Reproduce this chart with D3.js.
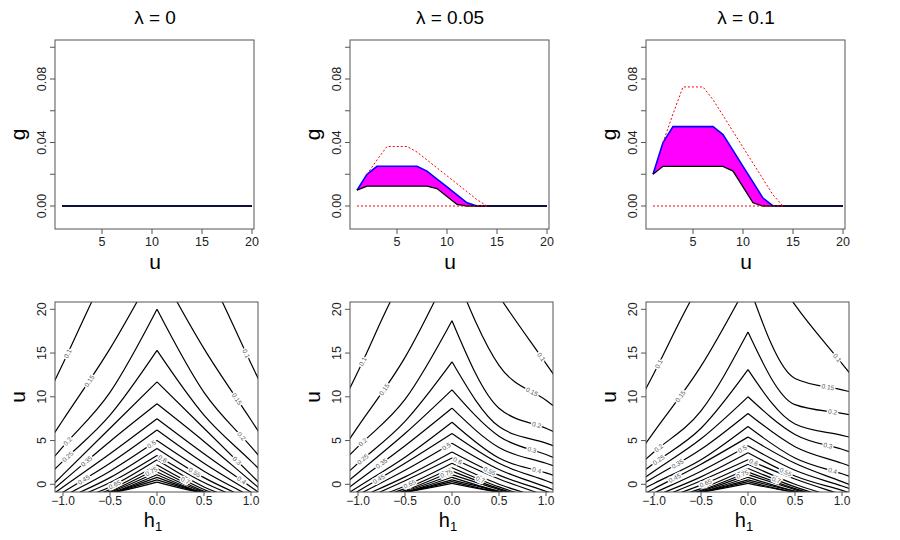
<!DOCTYPE html>
<html><head><meta charset="utf-8">
<script src="https://cdn.jsdelivr.net/npm/d3@7"></script>
<style>body{margin:0;background:#fff}text{font-family:"Liberation Sans",Arial,sans-serif}</style>
</head><body><svg id="c" width="900" height="540"></svg>
<script>
// ---------- data ----------
const titles = ["0", "0.05", "0.1"];
const uVals = d3.range(1, 21);
// top panels: g(u) for u = 1..20
const upperG = [
  [0,0,0,0,0,0,0,0,0,0,0,0,0,0,0,0,0,0,0,0],
  [0.010,0.020,0.025,0.025,0.025,0.025,0.025,0.022,0.017,0.012,0.007,0.002,0,0,0,0,0,0,0,0],
  [0.020,0.040,0.050,0.050,0.050,0.050,0.050,0.045,0.035,0.025,0.015,0.005,0,0,0,0,0,0,0,0]
];
const lowerG = [
  [0,0,0,0,0,0,0,0,0,0,0,0,0,0,0,0,0,0,0,0],
  [0.010,0.0125,0.0125,0.0125,0.0125,0.0125,0.0125,0.0125,0.011,0.006,0.001,0,0,0,0,0,0,0,0,0],
  [0.020,0.025,0.025,0.025,0.025,0.025,0.025,0.025,0.022,0.012,0.002,0,0,0,0,0,0,0,0,0]
];
const redU = [2,3,4,5,6,7,8,9,10,11,12,13,14];
const redG = [
  null,
  [0.020,0.029,0.0375,0.0375,0.0375,0.034,0.029,0.024,0.019,0.014,0.009,0.004,0],
  [0.040,0.058,0.075,0.075,0.075,0.067,0.057,0.047,0.037,0.027,0.017,0.007,0]
];
const redZeroU = [1, 14];
const gTicks = [0, 0.02, 0.04, 0.06, 0.08, 0.10];
const gTickLabels = ["0.00", "", "0.04", "", "0.08", ""];
const uTicks = [5, 10, 15, 20];
const hTicks = [-1, -0.5, 0, 0.5, 1];
const hTickLabels = ["\u22121.0", "\u22120.5", "0.0", "0.5", "1.0"];
const uTicksB = [0, 5, 10, 15, 20];

const levels = [0.1,0.15,0.2,0.25,0.3,0.35,0.4,0.45,0.5,0.55,0.6,0.65,0.7,0.75,0.8,0.85,0.9,0.95,1.0];
// contour u values at h = 0 (apex), |h| = 0.5 and |h| = 1 for left and right branches
const apexU = [
  [33,25,20,15.3,11.7,9.2,7.5,6.2,5.0,4.1,3.3,2.8,2.2,1.8,1.4,1.1,0.8,0.5,0.25],
  [30,25,18.7,14.0,10.8,8.7,7.1,5.8,4.7,3.7,3.0,2.4,1.9,1.5,1.1,0.8,0.5,0.3,0.1],
  [29,23,17.4,13.1,10.0,8.1,6.6,5.4,4.4,3.6,2.8,2.3,1.8,1.4,1.1,0.8,0.5,0.3,0.1]
];
const leftMidU = [
  [25,15.5,10.5,7.9,6.4,4.9,3.5,2.4,1.5,0.76,0.2,-0.3,-0.6,-0.8,-0.9,-1,-1,-1,-1],
  [24,14.5,9.7,7.2,5.8,4.4,3.1,2.4,1.6,0.85,0.4,-0.2,-0.5,-0.7,-0.8,-0.9,-0.9,-0.9,-0.9],
  [23,13.5,8.4,6.4,5.2,4.0,2.8,2.3,1.5,0.85,0.4,-0.1,-0.5,-0.7,-0.8,-0.9,-0.9,-0.9,-0.9]
];
const leftEdgeU = [
  [13.8,7.35,4.3,2.65,1.1,0.35,-0.3,-0.9,-1.4,-1.8,-2.1,-2.3,-2.4,-2.4,-2.3,-2.2,-2.0,-1.8,-1.5],
  [12.9,6.6,4.3,2.4,1.3,0.4,-0.3,-0.8,-1.2,-1.6,-2.0,-2.2,-2.2,-2.3,-2.2,-2.0,-1.8,-1.6,-1.5],
  [12.7,6.0,3.7,2.4,1.5,0.8,0.1,-0.5,-1.0,-1.4,-1.8,-2.0,-2.1,-2.2,-2.1,-2.0,-1.8,-1.6,-1.5]
];
const rightMidU = [
  [25,15.5,10.5,7.9,6.4,4.9,3.5,2.4,1.5,0.76,0.2,-0.3,-0.6,-0.8,-0.9,-1,-1,-1,-1],
  [21.5,13.6,8.7,6.6,5.5,4.2,3.0,2.4,1.7,1.05,0.6,0,-0.3,-0.5,-0.6,-0.8,-0.8,-0.9,-0.9],
  [20.5,12.1,9.1,6.9,5.7,4.3,3.0,2.4,1.6,0.95,0.6,0,-0.3,-0.5,-0.6,-0.8,-0.8,-0.9,-0.9]
];
const rightEdgeU = [
  [13.8,7.35,4.3,2.65,1.1,0.35,-0.3,-0.9,-1.4,-1.8,-2.1,-2.3,-2.4,-2.4,-2.3,-2.2,-2.0,-1.8,-1.5],
  [13.8,9.6,6.4,4.7,3.4,2.4,1.3,0.4,-0.3,-0.8,-1.3,-1.7,-2.0,-2.1,-2.1,-2.0,-1.8,-1.6,-1.5],
  [13.8,10.8,8.1,5.6,4.0,2.4,1.2,0.3,-0.2,-0.7,-1.2,-1.7,-2.0,-2.1,-2.1,-2.0,-1.8,-1.6,-1.5]
];
// contour label placements: [level, h]
const labelPos = [[0.1,-0.95],[0.15,-0.72],[0.2,-0.95],[0.25,-0.95],[0.35,-0.75],[0.45,-0.78],
  [0.5,-0.06],[0.6,0.06],[0.65,-0.45],[0.75,-0.06],[0.1,0.95],[0.15,0.85],[0.2,0.9],[0.3,0.85],
  [0.4,0.9],[0.55,0.4],[0.7,0.3]];

// ---------- drawing ----------
const svg = d3.select("#c");
const lefts = [55, 350, 646];
const boxCol = "#555";

lefts.forEach((L, i) => {
  // ----- top panel -----
  const x = d3.scaleLinear().domain([0.3, 20.2]).range([L, L + 199]);
  const y = d3.scaleLinear().domain([0, 0.08]).range([206, 79]);
  const g = svg.append("g");
  const t = g.append("text").attr("x", L + 100).attr("y", 24).attr("text-anchor", "middle").attr("font-size", 19);
  t.append("tspan").text("\u03bb");
  t.append("tspan").text(" = " + titles[i]);

  const top = 40, bot = 229;
  if (i > 0) {
    const area = d3.area().x((d, k) => x(uVals[k])).y0((d, k) => y(lowerG[i][k])).y1(d => y(d));
    g.append("path").datum(upperG[i]).attr("d", area).attr("fill", "#ff00ff");
  }
  const line = d3.line().x((d, k) => x(uVals[k])).y(d => y(d));
  g.append("path").datum(upperG[i]).attr("d", line).attr("fill", "none").attr("stroke", "#0000ff").attr("stroke-width", 1.6);
  g.append("path").datum(lowerG[i]).attr("d", line).attr("fill", "none").attr("stroke", "#000").attr("stroke-width", 1.3);
  if (redG[i]) {
    g.append("path").datum(redG[i]).attr("d", d3.line().x((d, k) => x(redU[k])).y(d => y(d)))
      .attr("fill", "none").attr("stroke", "#ff0000").attr("stroke-width", 1).attr("stroke-dasharray", "2,2");
    g.append("path").datum(redZeroU).attr("d", d3.line().x(d => x(d)).y(() => y(0)))
      .attr("fill", "none").attr("stroke", "#ff0000").attr("stroke-width", 1.2).attr("stroke-dasharray", "2,2");
  }
  g.append("rect").attr("x", L).attr("y", top).attr("width", 199).attr("height", bot - top)
    .attr("fill", "none").attr("stroke", boxCol);
  gTicks.forEach((v, k) => {
    g.append("line").attr("x1", L).attr("x2", L - 5).attr("y1", y(v)).attr("y2", y(v)).attr("stroke", boxCol);
    if (gTickLabels[k]) g.append("text").attr("transform", `translate(${L - 9},${y(v)}) rotate(-90)`)
      .attr("text-anchor", "middle").attr("font-size", 12.5).attr("fill", "#222").text(gTickLabels[k]);
  });
  uTicks.forEach(v => {
    g.append("line").attr("x1", x(v)).attr("x2", x(v)).attr("y1", bot).attr("y2", bot + 5).attr("stroke", boxCol);
    g.append("text").attr("x", x(v)).attr("y", bot + 17).attr("text-anchor", "middle").attr("font-size", 12.5).attr("fill", "#222").text(v);
  });
  g.append("text").attr("x", L + 100).attr("y", 269).attr("text-anchor", "middle").attr("font-size", 21).text("u");
  g.append("text").attr("transform", `translate(${L - 30},${(top + bot) / 2}) rotate(-90)`)
    .attr("text-anchor", "middle").attr("font-size", 21).text("g");

  // ----- bottom panel -----
  const hx = d3.scaleLinear().domain([-1, 1]).range([L + 8, L + 196]);
  const uy = d3.scaleLinear().domain([0, 20]).range([484.3, 309.3]);
  const bt = 302, bb = 492;
  const b = svg.append("g");
  const cid = "clip" + i;
  b.append("clipPath").attr("id", cid).append("rect").attr("x", L).attr("y", bt).attr("width", 203).attr("height", bb - bt);
  const cg = b.append("g").attr("clip-path", `url(#${cid})`);
  const cl = d3.line().x(d => hx(d[0])).y(d => uy(d[1])).curve(d3.curveMonotoneX);
  const paths = {};
  levels.forEach((lv, k) => {
    const a = apexU[i][k], lm = leftMidU[i][k], le = leftEdgeU[i][k], rm = rightMidU[i][k], re = rightEdgeU[i][k];
    const leftPts = [[-1.12, le + (le - lm) * 0.24], [-1, le], [-0.5, lm], [0, a]];
    const rightPts = [[0, a], [0.5, rm], [1, re], [1.12, re + (re - rm) * 0.24]];
    const pl = cg.append("path").datum(leftPts).attr("d", cl).attr("fill", "none").attr("stroke", "#000").attr("stroke-width", 1.2);
    const pr = cg.append("path").datum(rightPts).attr("d", cl).attr("fill", "none").attr("stroke", "#000").attr("stroke-width", 1.2);
    paths[lv] = [pl.node(), pr.node()];
  });
  labelPos.forEach(([lv, h]) => {
    const node = paths[lv][h < 0 ? 0 : 1];
    const tx = hx(h);
    let lo = 0, hi = node.getTotalLength();
    for (let it = 0; it < 30; it++) { const m = (lo + hi) / 2; if (node.getPointAtLength(m).x < tx) lo = m; else hi = m; }
    const p = node.getPointAtLength(lo), p2 = node.getPointAtLength(Math.min(lo + 3, node.getTotalLength()));
    if (p.y < bt + 4 || p.y > bb - 3) return;
    const ang = Math.atan2(p2.y - p.y, p2.x - p.x) * 180 / Math.PI;
    cg.append("text").attr("transform", `translate(${p.x},${p.y}) rotate(${ang})`).attr("dy", "0.35em")
      .attr("text-anchor", "middle").attr("font-size", 6.5).attr("fill", "#555")
      .attr("stroke", "#fff").attr("stroke-width", 3).attr("paint-order", "stroke").text(lv);
  });
  b.append("rect").attr("x", L).attr("y", bt).attr("width", 203).attr("height", bb - bt).attr("fill", "none").attr("stroke", boxCol);
  hTicks.forEach((v, k) => {
    b.append("line").attr("x1", hx(v)).attr("x2", hx(v)).attr("y1", bb).attr("y2", bb + 4).attr("stroke", boxCol);
    b.append("text").attr("x", hx(v)).attr("y", bb + 13).attr("text-anchor", "middle").attr("font-size", 12).attr("fill", "#222").text(hTickLabels[k]);
  });
  uTicksB.forEach(v => {
    b.append("line").attr("x1", L).attr("x2", L - 5).attr("y1", uy(v)).attr("y2", uy(v)).attr("stroke", boxCol);
    b.append("text").attr("transform", `translate(${L - 9},${uy(v)}) rotate(-90)`).attr("text-anchor", "middle")
      .attr("font-size", 12.5).attr("fill", "#222").text(v);
  });
  const hl = b.append("text").attr("x", L + 98).attr("y", 527).attr("text-anchor", "middle").attr("font-size", 20);
  hl.append("tspan").text("h");
  hl.append("tspan").attr("font-size", 13).attr("dy", 4).text("1");
  b.append("text").attr("transform", `translate(${L - 30},${(bt + bb) / 2}) rotate(-90)`)
    .attr("text-anchor", "middle").attr("font-size", 21).text("u");
});
</script></body></html>
